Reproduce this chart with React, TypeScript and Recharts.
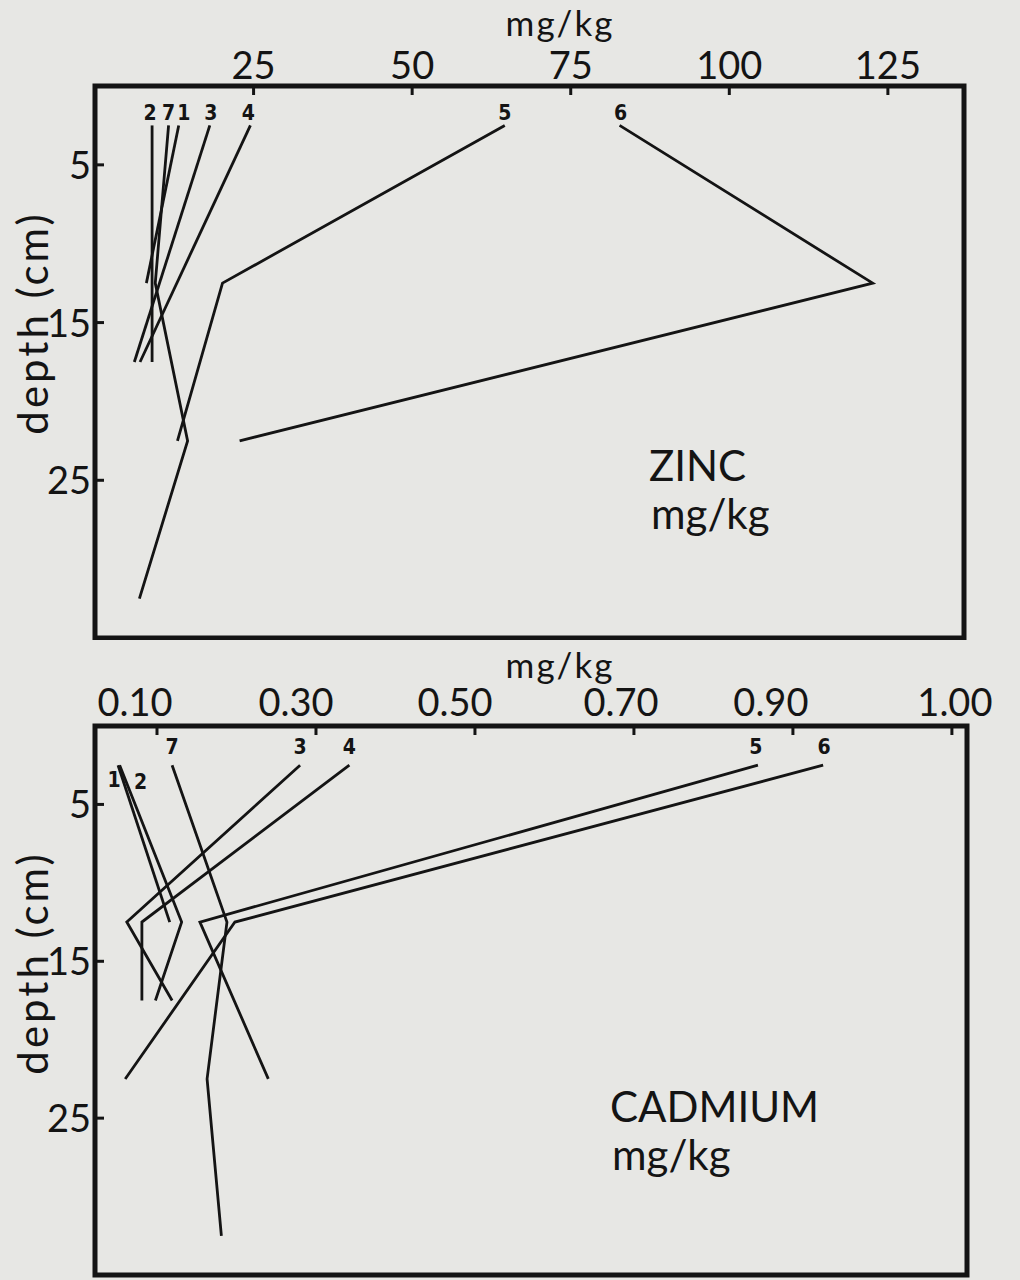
import React from "react";
import { ScatterChart, Scatter, XAxis, YAxis, ReferenceArea } from "recharts";

// axis ticks
const ZINC_TICKS = [25, 50, 75, 100, 125];
const CD_TICKS = [0.1, 0.3, 0.5, 0.7, 0.9, 1.1];
const CD_TICK_LABELS = ["0.10", "0.30", "0.50", "0.70", "0.90", "1.00"];
const DEPTH_TICKS = [5, 15, 25];

// zinc, mg/kg by depth (cm)
const zinc1 = [{ d: 2.5, v: 13.2 }, { d: 12.5, v: 8.1 }];
const zinc2 = [{ d: 2.5, v: 9.0 }, { d: 17.5, v: 9.0 }];
const zinc3 = [{ d: 2.5, v: 18.1 }, { d: 17.5, v: 6.2 }];
const zinc4 = [{ d: 2.5, v: 24.5 }, { d: 17.5, v: 7.1 }];
const zinc5 = [{ d: 2.5, v: 64.6 }, { d: 12.5, v: 20.1 }, { d: 22.5, v: 13.0 }];
const zinc6 = [{ d: 2.5, v: 82.7 }, { d: 12.5, v: 122.6 }, { d: 22.5, v: 22.8 }];
const zinc7 = [{ d: 2.5, v: 11.6 }, { d: 12.5, v: 9.5 }, { d: 22.5, v: 14.6 }, { d: 32.5, v: 7.0 }];

// cadmium, mg/kg by depth (cm)
const cd1 = [{ d: 2.5, v: 0.051 }, { d: 12.5, v: 0.116 }];
const cd2 = [{ d: 2.5, v: 0.053 }, { d: 12.5, v: 0.131 }, { d: 17.5, v: 0.098 }];
const cd3 = [{ d: 2.5, v: 0.28 }, { d: 12.5, v: 0.062 }, { d: 17.5, v: 0.119 }];
const cd4 = [{ d: 2.5, v: 0.342 }, { d: 12.5, v: 0.081 }, { d: 17.5, v: 0.081 }];
const cd5 = [{ d: 2.5, v: 0.856 }, { d: 12.5, v: 0.154 }, { d: 22.5, v: 0.24 }];
const cd6 = [{ d: 2.5, v: 0.938 }, { d: 12.5, v: 0.198 }, { d: 22.5, v: 0.06 }];
const cd7 = [{ d: 2.5, v: 0.119 }, { d: 12.5, v: 0.188 }, { d: 22.5, v: 0.163 }, { d: 32.5, v: 0.181 }];

const zincSeries = [
  { name: "1", data: zinc1 },
  { name: "2", data: zinc2 },
  { name: "3", data: zinc3 },
  { name: "4", data: zinc4 },
  { name: "5", data: zinc5 },
  { name: "6", data: zinc6 },
  { name: "7", data: zinc7 },
];
const cdSeries = [
  { name: "1", data: cd1 },
  { name: "2", data: cd2 },
  { name: "3", data: cd3 },
  { name: "4", data: cd4 },
  { name: "5", data: cd5 },
  { name: "6", data: cd6 },
  { name: "7", data: cd7 },
];

// label offsets from the first point of each line
const zincTagOffset: Record<string, [number, number]> = {
  "1": [5, -5], "2": [-2, -5], "3": [1, -5], "4": [-2, -5], "5": [0, -5], "6": [1, -5], "7": [0, -5],
};
const cdTagOffset: Record<string, [number, number]> = {
  "1": [-4, 22], "2": [21, 24], "3": [0, -11], "4": [0, -11], "5": [-2, -11], "6": [1, -11], "7": [0, -11],
};

const INK = "#141414";
const PAPER = "#e7e7e4";
const FONT = "Lato, 'Open Sans', sans-serif";
const TAG_FONT = "'DejaVu Sans Condensed', 'Liberation Sans Narrow', 'DejaVu Sans', sans-serif";

const tagShape = (first: { d: number; v: number }, name: string, off: [number, number]) => (p: any) => {
  if (!p.payload || p.payload.d !== first.d || p.payload.v !== first.v) return <g />;
  return (
    <text
      x={p.cx + off[0]}
      y={p.cy + off[1]}
      textAnchor="middle"
      style={{ fontFamily: TAG_FONT, fontWeight: 700, fontSize: 21 }}
      fill={INK}
    >
      {name}
    </text>
  );
};

const TopTick = ({ x, y, payload, index, labels, dxs, dy }: any) => (
  <g>
    <line x1={x} y1={y} x2={x} y2={y + 9} stroke={INK} strokeWidth={3} />
    <text x={x + (dxs ? dxs[index] : 0)} y={y - dy} textAnchor="middle" fontFamily={FONT} fontSize={38} fill={INK}>
      {labels ? labels[index] : payload.value}
    </text>
  </g>
);

const LeftTick = ({ x, y, payload }: any) => (
  <g>
    <line x1={x} y1={y} x2={x + 9} y2={y} stroke={INK} strokeWidth={3} />
    <text x={x - 4} y={y + 14} textAnchor="end" fontFamily={FONT} fontSize={38} fill={INK}>
      {payload.value}
    </text>
  </g>
);

const depthLabel = (cy: number) => () => (
  <text x={48} y={cy} transform={`rotate(-90 48 ${cy})`} textAnchor="middle" fontFamily={FONT} fontSize={42} letterSpacing={3} fill={INK}>
    depth (cm)
  </text>
);

const unitLabel = (y: number) => () => (
  <text x={560} y={y} textAnchor="middle" fontFamily={FONT} fontSize={35} letterSpacing={2} fill={INK}>
    mg/kg
  </text>
);

const titleLabel = (title: string, dx: number, dy: number) => (props: any) => {
  const vb = props.viewBox || { x: 0, y: 0 };
  return (
    <g fontFamily={FONT} fontSize={42} fill={INK}>
      <text x={vb.x + dx} y={vb.y + dy}>{title}</text>
      <text x={vb.x + dx + 2} y={vb.y + dy + 48}>mg/kg</text>
    </g>
  );
};

function Panel({
  series,
  domain,
  ticks,
  tickLabels,
  tickDx,
  tickDy,
  tagOffset,
  height,
  margin,
  title,
  titleDx,
  titleDy,
  unitY,
  depthY,
}: any) {
  return (
    <ScatterChart width={1020} height={height} margin={margin} style={{ display: "block" }}>
      <XAxis
        type="number"
        dataKey="v"
        orientation="top"
        domain={domain}
        ticks={ticks}
        allowDataOverflow
        height={1}
        axisLine={false}
        tickLine={false}
        tickSize={0}
        tickMargin={0}
        interval={0}
        tick={(p: any) => <TopTick {...p} labels={tickLabels} dxs={tickDx} dy={tickDy} />}
        label={unitLabel(unitY)}
      />
      <YAxis
        type="number"
        dataKey="d"
        domain={[0, 35]}
        ticks={DEPTH_TICKS}
        reversed
        allowDataOverflow
        width={1}
        axisLine={false}
        tickLine={false}
        tickSize={0}
        tickMargin={0}
        interval={0}
        tick={(p: any) => <LeftTick {...p} />}
        label={depthLabel(depthY)}
      />
      <ReferenceArea
        x1={domain[0]}
        x2={domain[1]}
        y1={0}
        y2={35}
        fill="none"
        fillOpacity={0}
        stroke={INK}
        strokeWidth={5}
        label={titleLabel(title, titleDx, titleDy)}
      />
      {series.map((s: any) => (
        <Scatter
          key={s.name}
          name={s.name}
          data={s.data}
          fill={INK}
          line={{ stroke: INK, strokeWidth: 2.8 }}
          shape={tagShape(s.data[0], s.name, tagOffset[s.name])}
          isAnimationActive={false}
        />
      ))}
    </ScatterChart>
  );
}

export default function App() {
  return (
    <div style={{ position: "absolute", left: 0, top: 0, width: 1020, height: 1280, background: PAPER, overflow: "hidden" }}>
      <Panel
        series={zincSeries}
        domain={[0, 137]}
        ticks={ZINC_TICKS}
        tickDy={7}
        tagOffset={zincTagOffset}
        height={640}
        margin={{ top: 85, right: 56, bottom: 2, left: 94 }}
        title="ZINC"
        titleDx={554}
        titleDy={395}
        unitY={36}
        depthY={323}
      />
      <Panel
        series={cdSeries}
        domain={[0.022, 1.119]}
        ticks={CD_TICKS}
        tickLabels={CD_TICK_LABELS}
        tickDx={[-22, -20, -20, -13, -22, 3]}
        tickDy={10}
        tagOffset={cdTagOffset}
        height={640}
        margin={{ top: 85, right: 53, bottom: 5, left: 94 }}
        title="CADMIUM"
        titleDx={515}
        titleDy={396}
        unitY={38}
        depthY={323}
      />
    </div>
  );
}
